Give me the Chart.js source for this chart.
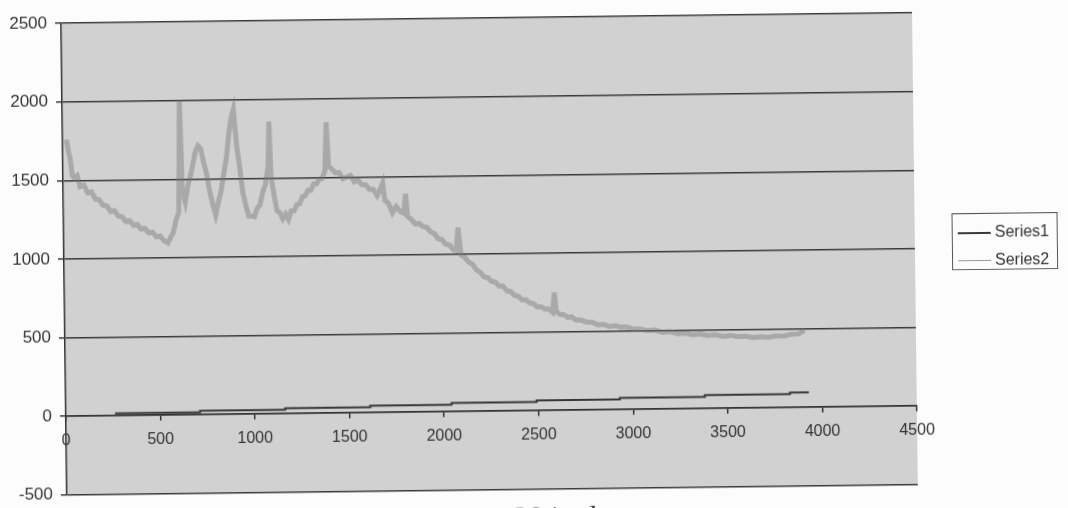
<!DOCTYPE html>
<html>
<head>
<meta charset="utf-8">
<script src="https://cdn.jsdelivr.net/npm/chart.js@4"></script>
<style>
  html, body { margin: 0; padding: 0; background: #fcfcfc; overflow: hidden; }
  #wrap {
    position: relative;
    width: 1068px;
    height: 508px;
    transform: rotate(-0.7deg);
    transform-origin: 490px 258px;
  }
  #chart { position: absolute; left: 0; top: 0; }
  #legend {
    position: absolute;
    left: 952px;
    top: 219px;
    width: 106px;
    height: 57px;
    box-sizing: border-box;
    border: 1px solid #555;
    background: #fcfcfc;
    font-family: "Liberation Sans", Arial, sans-serif;
    font-size: 16px;
    color: #333;
  }
  .legend-item { position: absolute; left: 5px; height: 20px; line-height: 20px; white-space: nowrap; }
  .legend-line { display: inline-block; width: 33px; vertical-align: middle; margin-right: 4px; }
  #caption {
    position: absolute;
    left: 417px;
    top: 502px;
    font-family: "Liberation Serif", "Times New Roman", serif;
    font-size: 30px;
    line-height: 1;
    color: #3a3a3a;
    white-space: nowrap;
  }
</style>
</head>
<body>
<div id="wrap">
  <canvas id="chart" width="1068" height="508"></canvas>
  <div id="legend"></div>
  <div id="caption">Fig. 5 : 20 in degree</div>
</div>
<script>
const seriesNames = ["Series1", "Series2"];

// Series1: step line
const series1X = [260, 710, 1160, 1610, 2040, 2490, 2930, 3380, 3830, 3930];
const series1Y = [15, 25, 35, 45, 55, 65, 75, 85, 95, 95];

// Series2: noisy curve
const series2X = [
  20, 30, 40, 50, 60, 75, 90, 110, 130, 150,
  170, 190, 210, 230, 250, 270, 290, 310, 330, 350,
  370, 390, 410, 430, 450, 470, 490, 510, 530, 550,
  565, 580, 595, 610, 620, 630, 645, 660, 680, 700,
  715, 730, 745, 760, 775, 790, 805, 820, 835, 850,
  865, 880, 893, 905, 920, 935, 950, 965, 980, 995,
  1010, 1025, 1040, 1055, 1070, 1085, 1092, 1100, 1115, 1130,
  1145, 1160, 1175, 1190, 1205, 1220, 1235, 1250, 1265, 1280,
  1295, 1310, 1325, 1340, 1355, 1370, 1385, 1395, 1405, 1420,
  1440, 1460, 1480, 1500, 1520, 1540, 1560, 1580, 1600, 1620,
  1640, 1660, 1680, 1690, 1700, 1720, 1740, 1760, 1780, 1800,
  1810, 1820, 1840, 1860, 1880, 1900, 1920, 1940, 1960, 1980,
  2000, 2020, 2040, 2060, 2075, 2085, 2100, 2120, 2140, 2160,
  2180, 2200, 2220, 2240, 2260, 2280, 2300, 2320, 2340, 2360,
  2380, 2400, 2420, 2440, 2460, 2480, 2500, 2520, 2540, 2560,
  2580, 2590, 2600, 2620, 2640, 2660, 2680, 2700, 2730, 2760,
  2790, 2820, 2850, 2880, 2910, 2940, 2970, 3000, 3040, 3080,
  3120, 3160, 3200, 3240, 3280, 3320, 3360, 3400, 3440, 3480,
  3520, 3560, 3600, 3640, 3680, 3720, 3760, 3800, 3840, 3880,
  3910
];
const series2Y = [
  1760, 1690, 1630, 1530, 1515, 1530, 1460, 1470, 1420, 1425,
  1380, 1375, 1340, 1335, 1300, 1305, 1270, 1265, 1235, 1240,
  1210, 1215, 1185, 1190, 1160, 1165, 1135, 1140, 1110, 1095,
  1130, 1160, 1240, 1290, 2000, 1420, 1350, 1460, 1550, 1670,
  1710, 1690, 1600, 1530, 1420, 1340, 1270, 1350, 1420, 1530,
  1630, 1790, 1890, 1940, 1710, 1570, 1410, 1330, 1260, 1260,
  1255, 1310, 1330, 1410, 1460, 1570, 1860, 1510, 1390, 1290,
  1280, 1240, 1270, 1235, 1290, 1290, 1330, 1335, 1380, 1385,
  1420, 1420, 1460, 1460, 1490, 1495, 1540, 1850, 1570, 1555,
  1530, 1530, 1490, 1500, 1510, 1470, 1480, 1450, 1450, 1420,
  1420, 1380, 1430, 1460, 1350, 1330, 1270, 1310, 1280, 1265,
  1390, 1245, 1225, 1195, 1200, 1180, 1175, 1145, 1135, 1100,
  1095, 1065, 1060, 1030, 1025, 1170, 995, 980, 950, 935,
  900, 885, 855, 850, 825, 820, 795, 795, 765, 760,
  735, 730, 705, 705, 685, 680, 660, 660, 645, 645,
  625, 750, 628, 610, 608, 590, 594, 575, 572, 560,
  558, 540, 543, 530, 534, 524, 526, 514, 512, 500,
  503, 488, 492, 478, 481, 470, 475, 464, 468, 458,
  463, 454, 458, 448, 453, 448, 457, 455, 465, 468,
  490
];

const xTicks = [0, 500, 1000, 1500, 2000, 2500, 3000, 3500, 4000, 4500];
const yTicks = [-500, 0, 500, 1000, 1500, 2000, 2500];

function toPoints(xs, ys) {
  return xs.map(function (x, i) {
    return { x: x, y: ys[i] };
  });
}

const plotBackground = {
  id: "plotBackground",
  beforeDraw(chart) {
    const a = chart.chartArea;
    const ctx = chart.ctx;
    ctx.save();
    ctx.fillStyle = "#d1d1d1";
    ctx.fillRect(a.left, a.top, a.right - a.left, a.bottom - a.top);
    ctx.restore();
  }
};

const chart = new Chart(document.getElementById("chart"), {
  type: "line",
  data: {
    datasets: [
      {
        label: seriesNames[0],
        data: toPoints(series1X, series1Y),
        borderColor: "#383838",
        borderWidth: 2,
        stepped: "before",
        pointRadius: 0
      },
      {
        label: seriesNames[1],
        data: toPoints(series2X, series2Y),
        borderColor: "rgba(120,120,120,0.45)",
        borderWidth: 5,
        tension: 0,
        pointRadius: 0
      }
    ]
  },
  options: {
    responsive: false,
    animation: false,
    layout: {
      padding: { top: 14, right: 153, bottom: 17, left: 0 }
    },
    scales: {
      x: {
        type: "linear",
        position: { y: 0 },
        min: xTicks[0],
        max: xTicks[xTicks.length - 1],
        afterBuildTicks(scale) {
          scale.ticks = xTicks.map(v => ({ value: v }));
        },
        ticks: {
          padding: 10,
          color: "#333",
          font: { family: "'Liberation Sans', Arial, sans-serif", size: 16 },
          callback: value => String(value)
        },
        grid: {
          drawOnChartArea: false,
          drawTicks: true,
          tickLength: 5,
          color: "#333",
          lineWidth: 1.5
        },
        border: { display: true, color: "#333", width: 1.5 }
      },
      y: {
        min: yTicks[0],
        max: yTicks[yTicks.length - 1],
        afterBuildTicks(scale) {
          scale.ticks = yTicks.map(v => ({ value: v }));
        },
        afterFit(scale) {
          scale.width = 64;
        },
        ticks: {
          padding: 8,
          color: "#333",
          font: { family: "'Liberation Sans', Arial, sans-serif", size: 17 },
          callback: value => String(value)
        },
        grid: {
          color: "#3a3a3a",
          lineWidth: 1.5,
          drawTicks: true,
          tickLength: 6
        },
        border: { display: true, color: "#333", width: 1.5 }
      }
    },
    plugins: {
      legend: { display: false },
      tooltip: { enabled: false }
    }
  },
  plugins: [plotBackground]
});

// legend box on the right, built from the datasets
const legendEl = document.getElementById("legend");
const legendLineStyles = ["2px solid #383838", "1px solid #9a9a9a"];
chart.data.datasets.forEach(function (ds, i) {
  const item = document.createElement("div");
  item.className = "legend-item";
  item.style.top = (8 + i * 28) + "px";
  const line = document.createElement("span");
  line.className = "legend-line";
  line.style.borderTop = legendLineStyles[i];
  item.appendChild(line);
  item.appendChild(document.createTextNode(ds.label));
  legendEl.appendChild(item);
});
</script>
</body>
</html>
